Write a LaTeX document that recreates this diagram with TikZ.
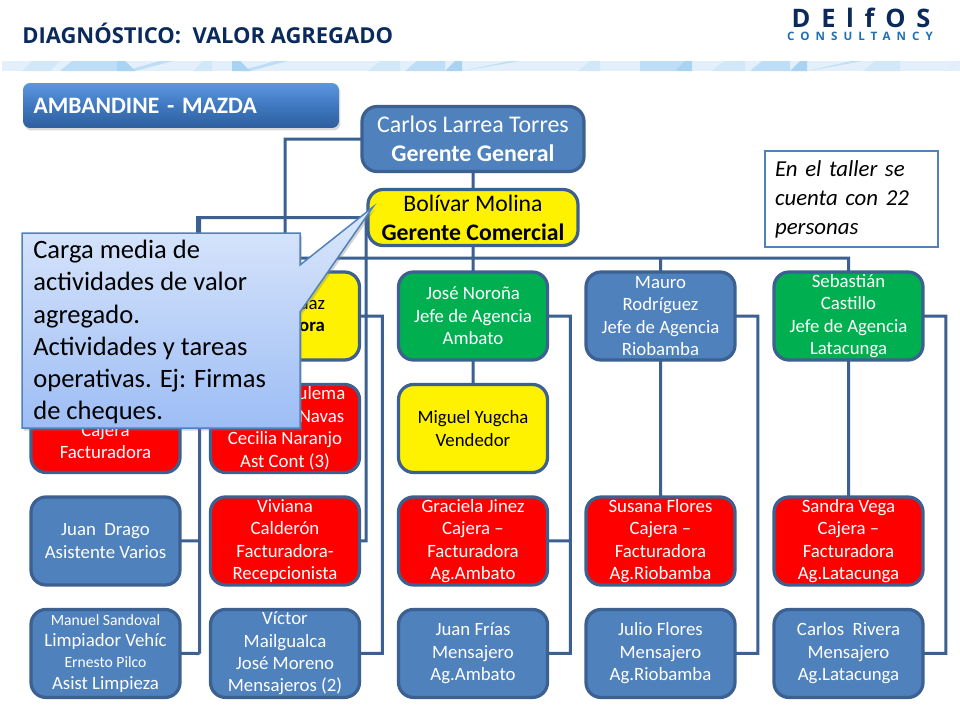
\documentclass[tikz,border=0pt]{standalone}
\usepackage{fontspec}
\setmainfont{Carlito}
\newfontfamily\titlefont{Open Sans}
\newfontfamily\logofont[LetterSpace=42]{Open Sans}
\newfontfamily\logosub[LetterSpace=52]{Open Sans}
\usetikzlibrary{positioning,calc,shadows}

\definecolor{boxblue}{HTML}{4F81BD}
\definecolor{boxline}{HTML}{3C6190}
\definecolor{boxgreen}{HTML}{00B050}
\definecolor{navy}{HTML}{0B2A5C}
\definecolor{logoblue}{HTML}{1F6FB2}
\definecolor{bandA}{HTML}{E3F0FB}
\definecolor{bandB}{HTML}{D2E7F8}
\definecolor{bandC}{HTML}{BEDDF6}
\definecolor{bandD}{HTML}{A8D3F2}
\definecolor{barTop}{HTML}{5C97DE}
\definecolor{barMid}{HTML}{3F78C0}
\definecolor{barLow}{HTML}{2E5F9E}
\definecolor{noteTop}{HTML}{DCE8FB}
\definecolor{noteLow}{HTML}{9DBDF5}

\newcommand{\smallname}[1]{{\fontsize{8.9}{10}\selectfont #1}}

\begin{document}
\begin{tikzpicture}[x=0.02cm,y=-0.02cm]

    \tikzstyle{person} = [rectangle,rounded corners=0.3cm,draw=boxline,line width=0.065cm,
        minimum width=2.98cm,minimum height=1.76cm,inner sep=0pt,outer sep=0pt,align=center,
        font=\fontsize{10.7}{12.8}\selectfont]
    \tikzstyle{bluebox}   = [person,fill=boxblue,text=white]
    \tikzstyle{greenbox}  = [person,fill=boxgreen,text=white]
    \tikzstyle{redbox}    = [person,fill=red,text=white]
    \tikzstyle{yellowbox} = [person,fill=yellow,text=black]
    \tikzstyle{conn} = [draw=boxline,line width=0.06cm]

    \useasboundingbox (0,0) rectangle (960,720);

    % band under the title
    \fill[bandA] (2,61) rectangle (960,71);
    \foreach \a/\b/\c/\d in {22/32/60/50,193/203/212/212,368/380/400/400,578/590/600/600,712/724/745/745,863/875/900/900}
        \fill[bandB] (\a,71) -- (\b,61) -- (\c,61) -- (\d,71) -- cycle;
    \foreach \a/\b/\c/\d in {60/72/117/117,125/160/173/135,240/275/288/250,405/417/445/445,462/510/520/462,640/640/685/675,750/762/790/790,807/852/863/807,945/960/960/945}
        \fill[bandC] (\a,71) -- (\b,61) -- (\c,61) -- (\d,71) -- cycle;
    \foreach \a/\b/\c/\d in {117/117/125/135,232/232/240/250,445/455/462/462,675/685/692/692,790/800/807/807}
        \fill[bandD] (\a,71) -- (\b,61) -- (\c,61) -- (\d,71) -- cycle;

    \node[text=navy,font=\titlefont\bfseries\fontsize{12.5}{14}\selectfont,anchor=west,inner sep=0pt] (title) at (22,33)
        {DIAGNÓSTICO:\ \ VALOR AGREGADO};
    \node[text=navy,font=\logofont\bfseries\fontsize{14.5}{14.5}\selectfont,inner sep=0pt] (delfos) at (861,18) {DElfOS};
    \node[text=logoblue,font=\logosub\bfseries\fontsize{6.6}{6.6}\selectfont,inner sep=0pt] (consul) at (860,36.5) {CONSULTANCY};

    \node[rounded corners=0.14cm,minimum width=6.32cm,minimum height=0.9cm,inner sep=0pt,
        top color=barTop,bottom color=barLow,middle color=barMid,
        drop shadow={shadow xshift=0.03cm,shadow yshift=-0.05cm,opacity=0.3},
        text=white,font=\bfseries\fontsize{13.4}{15}\selectfont,text width=5.9cm,align=left] (marca) at (181,105.5) {AMBANDINE - MAZDA};

    \node[bluebox,minimum width=4.44cm,minimum height=1.3cm,font=\fontsize{13.6}{16.5}\selectfont] (carlos) at (473,139)
        {Carlos Larrea Torres\\\textbf{Gerente General}};
    \node[yellowbox,minimum width=4.2cm,minimum height=1.12cm,font=\fontsize{13.5}{16.5}\selectfont] (bolivar) at (473,217.5)
        {Bolívar Molina\\\textbf{Gerente Comercial}};

    \node[draw=boxblue,line width=0.05cm,minimum width=3.46cm,minimum height=1.92cm,inner sep=0pt,
        align=left,font=\itshape\fontsize{13}{16.5}\selectfont,text width=3.06cm] (taller) at (851.5,199)
        {En el taller se\\cuenta con 22\\personas};

    \node[yellowbox] (secre) at (285,316) {\hspace*{1.08cm}uaz\\\hspace*{1.08cm}\textbf{ora}};
    \node[greenbox] (jose) at (473,316) {José Noroña\\Jefe de Agencia\\Ambato};
    \node[bluebox] (mauro) at (660.5,316) {Mauro\\Rodríguez\\Jefe de Agencia\\Riobamba};
    \node[greenbox] (sebastian) at (848.5,316) {Sebastián\\Castillo\\Jefe de Agencia\\Latacunga};

    \node[redbox] (cajera) at (105.5,428.5) {\strut\\Cajera\\Facturadora};
    \node[redbox] (contab) [below=0.49cm of secre] {\hspace*{1.46cm}ulema\\\hspace*{1.46cm}Navas\\Cecilia Naranjo\\Ast Cont (3)};
    \node[yellowbox] (miguel) [below=0.49cm of jose] {Miguel Yugcha\\Vendedor};

    \node[bluebox] (drago) [below=0.49cm of cajera] {Juan\ \ Drago\\Asistente Varios};
    \node[redbox] (viviana) [below=0.49cm of contab] {Viviana\\Calderón\\Facturadora-\\Recepcionista};
    \node[redbox] (graciela) [below=0.49cm of miguel] {Graciela Jinez\\Cajera --\\Facturadora\\Ag.Ambato};
    \node[redbox] (susana) at (660.5,541) {Susana Flores\\Cajera --\\Facturadora\\Ag.Riobamba};
    \node[redbox] (sandra) at (848.5,541) {Sandra Vega\\Cajera --\\Facturadora\\Ag.Latacunga};

    \node[bluebox,font=\fontsize{10.7}{12}\selectfont] (sandoval) [below=0.49cm of drago] {\smallname{Manuel Sandoval}\\Limpiador Vehíc\\\smallname{Ernesto Pilco}\\Asist Limpieza};
    \node[bluebox] (victor) [below=0.49cm of viviana] {Víctor\\Mailgualca\\José Moreno\\Mensajeros (2)};
    \node[bluebox] (frias) [below=0.49cm of graciela] {Juan Frías\\Mensajero\\Ag.Ambato};
    \node[bluebox] (julio) [below=0.49cm of susana] {Julio Flores\\Mensajero\\Ag.Riobamba};
    \node[bluebox] (rivera) [below=0.49cm of sandra] {Carlos\ \ Rivera\\Mensajero\\Ag.Latacunga};

    \coordinate (bus) at (473,258);
    \coordinate (spine) at (199.5,653.5);
    \coordinate (tap) at (366,217.5);
    \coordinate (stub) at (197.5,240);

    \path[conn]
        (carlos.south) -- (bolivar.north)
        (carlos.west) -| (secre.north)
        (bolivar.south) -- (jose.north)
        (bus) -| (secre.north)
        (bus) -| (mauro.north)
        (bus) -| (sebastian.north)
        (bolivar.west) -| (spine)
        (bolivar.west) -| (stub)
        (drago.east) -- (drago.east -| spine)
        (sandoval.east) -- (spine)
        (tap) |- (viviana.east)
        (secre.east) -- ++(23,0) |- (victor.east)
        (jose.east) -- ++(23,0) |- (frias.east)
        (graciela.east) -- ++(23,0)
        (jose.south) -- (miguel.north)
        (mauro.east) -- ++(23,0) |- (julio.east)
        (mauro.south) -- (susana.north)
        (sebastian.east) -- ++(23,0) |- (rivera.east)
        (sebastian.south) -- (sandra.north)
    ;

    % the callout sits on top of everything
    \path[draw=boxblue,line width=0.03cm,top color=noteTop,bottom color=noteLow,
        drop shadow={shadow xshift=0.04cm,shadow yshift=-0.05cm,opacity=0.35}]
        (22,233) -- (300,233) -- (300,265) -- (373,207) -- (300,312) -- (300,428) -- (22,428) -- cycle;
    \node[align=left,anchor=north west,inner sep=0pt,font=\fontsize{15.1}{18.3}\selectfont] (carga) at (33,240)
        {Carga media de\\actividades de valor\\agregado.\\Actividades y tareas\\operativas. Ej: Firmas\\de cheques.};

\end{tikzpicture}
\end{document}
